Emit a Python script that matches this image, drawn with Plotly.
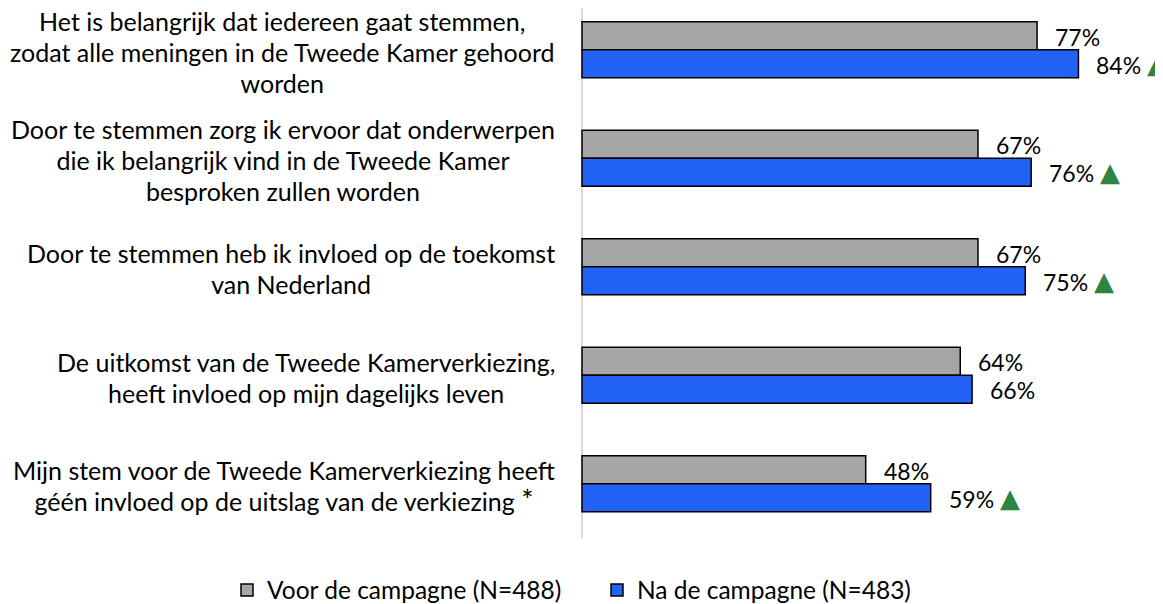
import plotly.graph_objects as go

categories = [
    "Het is belangrijk dat iedereen gaat stemmen,<br>zodat alle meningen in de Tweede Kamer gehoord<br>worden",
    "Door te stemmen zorg ik ervoor dat onderwerpen<br>die ik belangrijk vind in de Tweede Kamer<br>besproken zullen worden",
    "Door te stemmen heb ik invloed op de toekomst<br>van Nederland",
    "De uitkomst van de Tweede Kamerverkiezing,<br>heeft invloed op mijn dagelijks leven",
    "Mijn stem voor de Tweede Kamerverkiezing heeft<br>géén invloed op de uitslag van de verkiezing <span style='font-size:29px'>*</span>",
]
cat_ids = ["c1", "c2", "c3", "c4", "c5"]
voor = [77, 67, 67, 64, 48]
na = [84, 76, 75, 66, 59]
significant = [True, True, True, False, True]
series_names = ["Voor de campagne (N=488)", "Na de campagne (N=483)"]

FONT = "Lato"
GRAY = "#A6A6A6"
BLUE = "#2262F5"
GREEN = "#2E8540"

# page body has an 8px margin; figure is sized to fill the window exactly
W, H = 1155, 596
B = 66
ZERO_PX = 574          # x position of the value 0 inside the figure
PX_PER_UNIT = 5.91

fig = go.Figure()
fig.add_trace(go.Bar(y=cat_ids, x=voor, orientation="h", name=series_names[0],
                     marker=dict(color=GRAY, line=dict(color="black", width=1.5))))
fig.add_trace(go.Bar(y=cat_ids, x=na, orientation="h", name=series_names[1],
                     marker=dict(color=BLUE, line=dict(color="black", width=1.5))))

annotations = []
for cid, txt in zip(cat_ids, categories):
    annotations.append(dict(
        x=0, y=cid, xref="x", yref="y", xanchor="right", yanchor="middle",
        xshift=-25, yshift=-2, align="center", showarrow=False,
        text=f"<span style='font-size:25px'>{txt}</span>",
        font=dict(family=FONT, size=24, color="black")))

for i, cid in enumerate(cat_ids):
    annotations.append(dict(x=voor[i], y=cid, xref="x", yref="y", xanchor="left",
                            yanchor="middle", xshift=16, yshift=13, showarrow=False,
                            text=f"{voor[i]}%", font=dict(family=FONT, size=23, color="black")))
    annotations.append(dict(x=na[i], y=cid, xref="x", yref="y", xanchor="left",
                            yanchor="middle", xshift=16, yshift=-15, showarrow=False,
                            text=f"{na[i]}%", font=dict(family=FONT, size=23, color="black")))
    if significant[i]:
        annotations.append(dict(x=na[i], y=cid, xref="x", yref="y", xanchor="center",
                                yanchor="middle", xshift=79, yshift=-14, showarrow=False,
                                text="▲", font=dict(family="DejaVu Sans", size=26, color=GREEN)))

x_lo = -ZERO_PX / PX_PER_UNIT
x_hi = (W - ZERO_PX) / PX_PER_UNIT

fig.update_layout(
    annotations=annotations,
    width=W, height=H,
    margin=dict(l=0, r=0, t=0, b=B),
    plot_bgcolor="white", paper_bgcolor="white",
    barmode="group", bargap=0.484, bargroupgap=0,
    font=dict(family=FONT, size=23, color="black"),
    xaxis=dict(range=[x_lo, x_hi], showgrid=False, showticklabels=False,
               zeroline=True, zerolinecolor="#D9D9D9", zerolinewidth=1.5,
               showline=False, ticks=""),
    yaxis=dict(range=[4.5, -0.385], showgrid=False, showticklabels=False, zeroline=False,
               showline=False, ticks="",
               categoryorder="array", categoryarray=cat_ids),
    legend=dict(orientation="h", xref="container", yref="container", x=219 / W, y=0.0235,
                xanchor="left", yanchor="middle", font=dict(family=FONT, size=24.5),
                itemwidth=30, traceorder="normal", entrywidth=325),
    showlegend=True,
)

fig.write_html("out.html")
